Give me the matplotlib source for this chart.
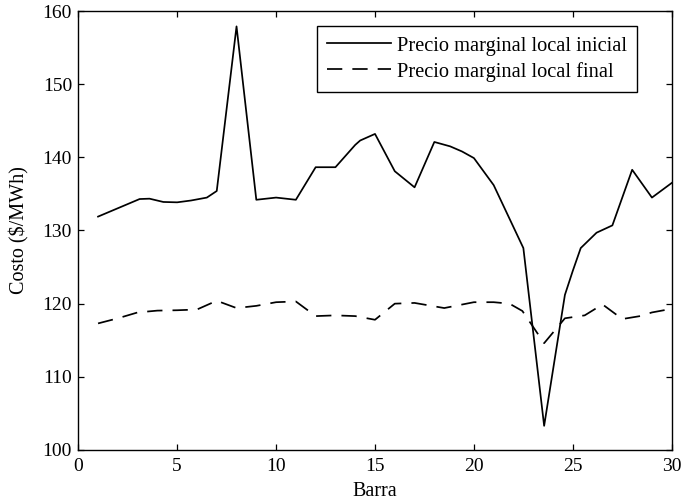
# Precio marginal local inicial vs final por barra

import matplotlib
matplotlib.use("Agg")
import matplotlib.pyplot as plt

plt.rcParams['font.family'] = ['Liberation Serif', 'DejaVu Serif']

# Precio marginal local inicial (solid line)
barra_inicial = [1, 3.1, 3.6, 4.3, 5, 5.7, 6.5, 7, 8, 9, 10, 11, 12, 13, 14, 14.25,
                 15, 16, 17, 18, 18.8, 19.4, 20, 21, 22.5, 23.55, 24.6, 25, 25.4,
                 26.2, 27, 28, 29, 30]
precio_inicial = [131.9, 134.3, 134.35, 133.9, 133.85, 134.1, 134.5, 135.4, 157.9,
                  134.2, 134.5, 134.2, 138.65, 138.65, 141.7, 142.3, 143.2, 138.1,
                  135.9, 142.1, 141.5, 140.8, 139.9, 136.2, 127.6, 103.3, 121.2,
                  124.5, 127.6, 129.7, 130.7, 138.3, 134.5, 136.5]

# Precio marginal local final (dashed line)
barra_final = [1, 2, 3, 4, 5, 6, 7, 8, 9, 10, 11, 12, 13, 14, 15, 16, 17, 18.5,
               20, 21, 21.8, 22.45, 23.55, 24.6, 25.6, 26.5, 27.5, 28.4, 29, 30]
precio_final = [117.3, 118.0, 118.8, 119.05, 119.1, 119.2, 120.4, 119.4, 119.7,
                120.2, 120.3, 118.3, 118.4, 118.3, 117.8, 120.0, 120.1, 119.4,
                120.2, 120.2, 120.0, 119.0, 114.6, 118.0, 118.4, 119.9, 117.9,
                118.3, 118.8, 119.3]

fig = plt.figure(figsize=(6.83, 5.03), dpi=100)
ax = fig.add_axes([0.1146, 0.1054, 0.8689, 0.8727])

ax.plot(barra_inicial, precio_inicial, color="k", linewidth=1.25,
        label="Precio marginal local inicial")
ax.plot(barra_final, precio_final, color="k", linewidth=1.25, dashes=(8.8, 5.8),
        label="Precio marginal local final")

ax.set_xlim(0, 30)
ax.set_ylim(100, 160)
ax.set_xticks(range(0, 31, 5))
ax.set_yticks(range(100, 161, 10))
ax.tick_params(direction="in", top=True, right=True, length=4.5, width=0.9,
               labelsize=14)
ax.tick_params(axis="x", pad=6)
ax.tick_params(axis="y", pad=4.5)
for sp in ax.spines.values():
    sp.set_linewidth(1.0)

ax.set_xlabel("Barra", fontsize=14.5, labelpad=5)
ax.set_ylabel("Costo (\\$/MWh)", fontsize=14.5, labelpad=9.5)

leg = ax.legend(loc="upper right", bbox_to_anchor=(0.9415, 0.9658), fontsize=14.7,
                frameon=True, fancybox=False, edgecolor="k", framealpha=1,
                handlelength=3.1, handletextpad=0.3, borderpad=0.5,
                labelspacing=0.3, borderaxespad=0)
leg.get_frame().set_linewidth(1.0)

fig.savefig("out.png", dpi=100)
